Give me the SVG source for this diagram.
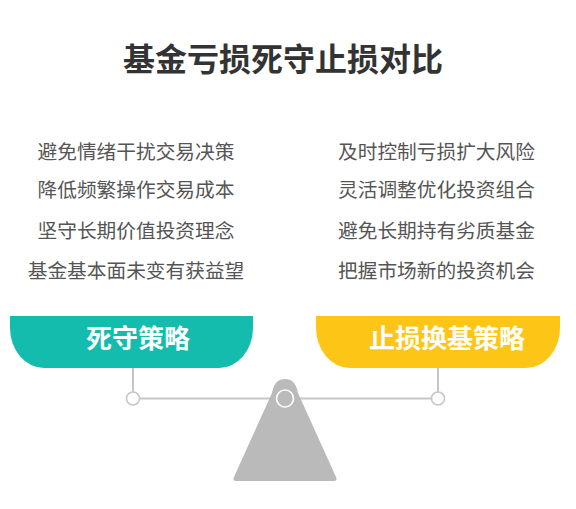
<svg xmlns="http://www.w3.org/2000/svg" width="576" height="509" viewBox="0 0 576 509">
<style>
.t{font-family:"Noto Sans CJK SC","Noto Sans",sans-serif;}
.title{font-size:32px;font-weight:bold;fill:#333333;text-anchor:middle;}
.item{font-size:19.7px;fill:#555555;text-anchor:middle;}
.lab{font-size:26px;font-weight:bold;fill:#ffffff;text-anchor:middle;}
.ln{stroke:#c6c6c6;stroke-width:2;fill:none;}
.dot{stroke:#c6c6c6;stroke-width:1.6;fill:#ffffff;}
</style>
<rect width="576" height="509" fill="#ffffff"/>
<g id="title"><text class="t title" x="283" y="71">基金亏损死守止损对比</text></g>
<g id="left-list">
<text class="t item" x="136" y="159">避免情绪干扰交易决策</text>
<text class="t item" x="136" y="197">降低频繁操作交易成本</text>
<text class="t item" x="136" y="238">坚守长期价值投资理念</text>
<text class="t item" x="136" y="278">基金基本面未变有获益望</text>
</g>
<g id="right-list">
<text class="t item" x="436.5" y="159">及时控制亏损扩大风险</text>
<text class="t item" x="436.5" y="197">灵活调整优化投资组合</text>
<text class="t item" x="436.5" y="238">避免长期持有劣质基金</text>
<text class="t item" x="436.5" y="278">把握市场新的投资机会</text>
</g>
<g id="connectors">
<line class="ln" x1="133" y1="367" x2="133" y2="392"/>
<line class="ln" x1="438" y1="367" x2="438" y2="392"/>
<line class="ln" x1="140" y1="398.5" x2="431" y2="398.5"/>
</g>
<g id="left-banner">
<path d="M10,316 H253 V328 A34,40 0 0 1 219,368 H44 A34,40 0 0 1 10,328 Z" fill="#14bcad"/>
<text class="t lab" x="138" y="348">死守策略</text>
</g>
<g id="right-banner">
<path d="M316,316 H560 V328 A34,40 0 0 1 526,368 H350 A34,40 0 0 1 316,328 Z" fill="#fdc617"/>
<text class="t lab" x="447" y="348">止损换基策略</text>
</g>
<g id="left-pivot"><circle class="dot" cx="133" cy="398.5" r="6.5"/></g>
<g id="right-pivot"><circle class="dot" cx="438" cy="398.5" r="6.5"/></g>
<g id="fulcrum">
<path d="M234,477 L272,393 C274,383 278,379 285,379 C292,379 296,383 298,393 L336,477 Q338,481 333,481 L237,481 Q232,481 234,477 Z" fill="#bababa"/>
<circle cx="285" cy="398.5" r="8.5" fill="#bababa" stroke="#ffffff" stroke-width="1.6"/>
</g>
</svg>
